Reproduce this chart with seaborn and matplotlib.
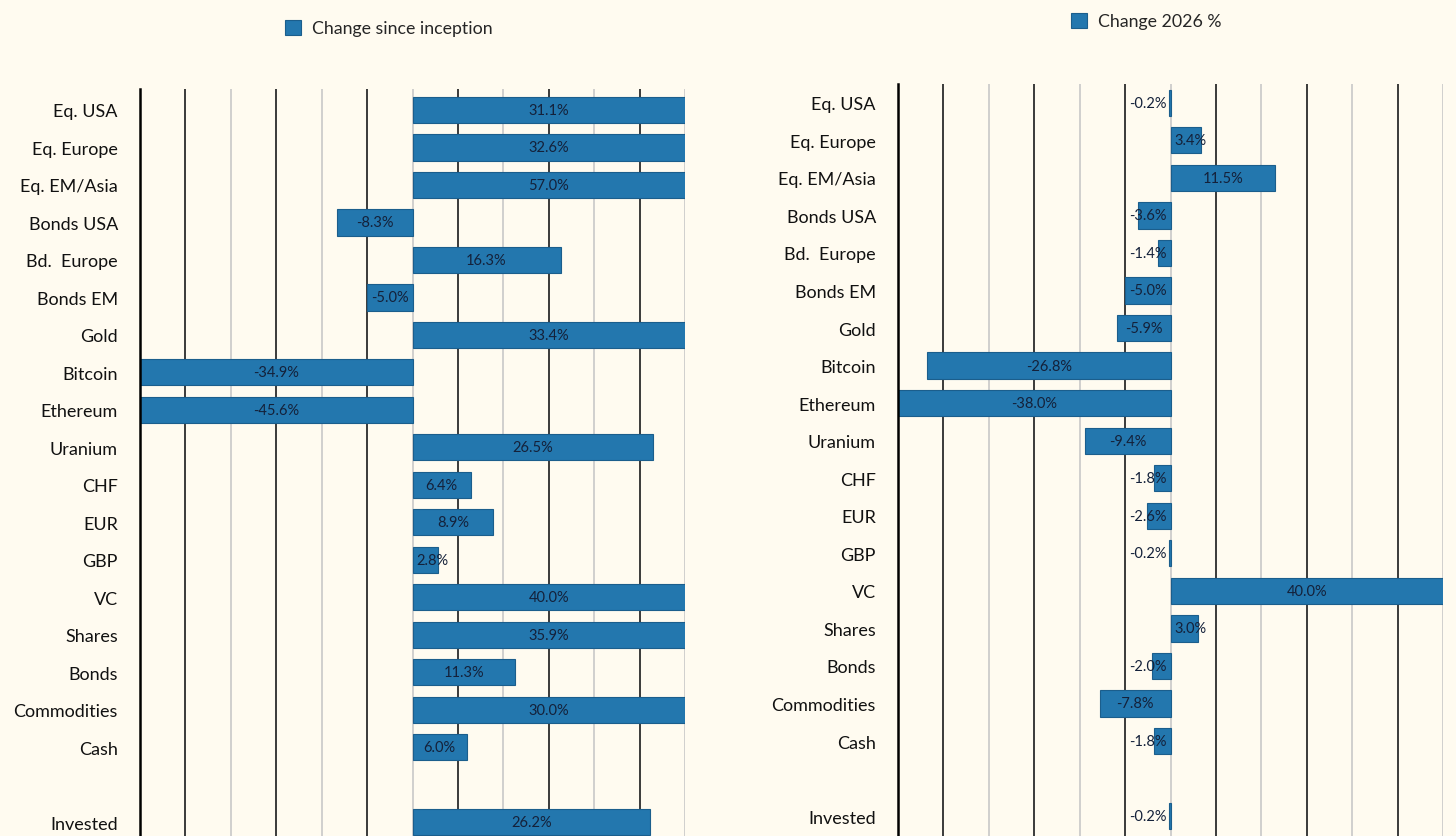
import matplotlib
matplotlib.use("Agg")
import matplotlib.pyplot as plt
import seaborn as sns
from matplotlib.patches import Patch

categories = ["Eq. USA", "Eq. Europe", "Eq. EM/Asia", "Bonds USA", "Bd.  Europe",
              "Bonds EM", "Gold", "Bitcoin", "Ethereum", "Uranium", "CHF", "EUR",
              "GBP", "VC", "Shares", "Bonds", "Commodities", "Cash", "Invested"]
since_inception = [31.1, 32.6, 57.0, -8.3, 16.3, -5.0, 33.4, -34.9, -45.6, 26.5,
                   6.4, 8.9, 2.8, 40.0, 35.9, 11.3, 30.0, 6.0, 26.2]
change_2026 = [-0.2, 3.4, 11.5, -3.6, -1.4, -5.0, -5.9, -26.8, -38.0, -9.4,
               -1.8, -2.6, -0.2, 40.0, 3.0, -2.0, -7.8, -1.8, -0.2]

# blank slot between Cash and Invested
order = categories[:-1] + [" "] + categories[-1:]

bg = "#fffbf0"
bar_color = "#2377ae"
edge_color = "#1b5e8c"
lim = 30

sns.set_style("white")
plt.rcParams["font.family"] = ["Lato", "DejaVu Sans"]

fig = plt.figure(figsize=(14.56, 8.37), dpi=100)
fig.patch.set_facecolor(bg)

ax1 = fig.add_axes([140 / 1456, 0, 545 / 1456, 1 - 90 / 837])
ax2 = fig.add_axes([898 / 1456, 0, 545 / 1456, 1 - 85 / 837])


def draw(ax, values, ylim):
    ax.set_facecolor(bg)
    for x in range(-25, lim + 5, 5):
        dark = (x // 5) % 2 != 0
        ax.axvline(x, color="#2b2b2b" if dark else "#c4c4c4",
                   lw=1.3 if dark else 1.1, zorder=0)
    sns.barplot(x=values, y=categories, order=order, orient="h", color=bar_color,
                saturation=1, width=0.7, edgecolor=edge_color, linewidth=0.8,
                errorbar=None, ax=ax, zorder=2)
    ax.set_xlim(-lim, lim)
    ax.set_ylim(*ylim)
    ax.set_xlabel("")
    ax.set_ylabel("")
    ax.set_xticks([])
    for s in ["top", "right", "bottom"]:
        ax.spines[s].set_visible(False)
    ax.spines["left"].set_color("black")
    ax.spines["left"].set_linewidth(1.8)
    ax.tick_params(axis="y", length=0, pad=16, labelsize=13, labelcolor="#111111")

    for cat, v in zip(categories, values):
        i = order.index(cat)
        c = max(-lim, min(lim, v))
        txt = f"{v:.1f}%"
        if v < 0 and abs(c) < 4.9:
            ax.text(-0.4, i, txt, ha="right", va="center", fontsize=10.5,
                    color="#14213a", zorder=3)
        elif v >= 0 and c < 4.2:
            ax.text(0.4, i, txt, ha="left", va="center", fontsize=10.5,
                    color="#14213a", zorder=3)
        else:
            ax.text(c / 2, i, txt, ha="center", va="center", fontsize=10.5,
                    color="#14213a", zorder=3)


draw(ax1, since_inception, (19.37, -0.56))
draw(ax2, change_2026, (19.53, -0.5))

for label, x, y in [("Change since inception", 285 / 1456, 1 - 29 / 837),
                    ("Change 2026 %", 1071 / 1456, 1 - 22 / 837)]:
    fig.legend(handles=[Patch(facecolor=bar_color, edgecolor=edge_color, lw=0.8, label=label)],
               loc="center left", bbox_to_anchor=(x, y), frameon=False,
               fontsize=12.8, handlelength=0.92, handleheight=0.92,
               handletextpad=0.62, borderpad=0, borderaxespad=0)

fig.savefig("out.png", dpi=100, facecolor=bg)
